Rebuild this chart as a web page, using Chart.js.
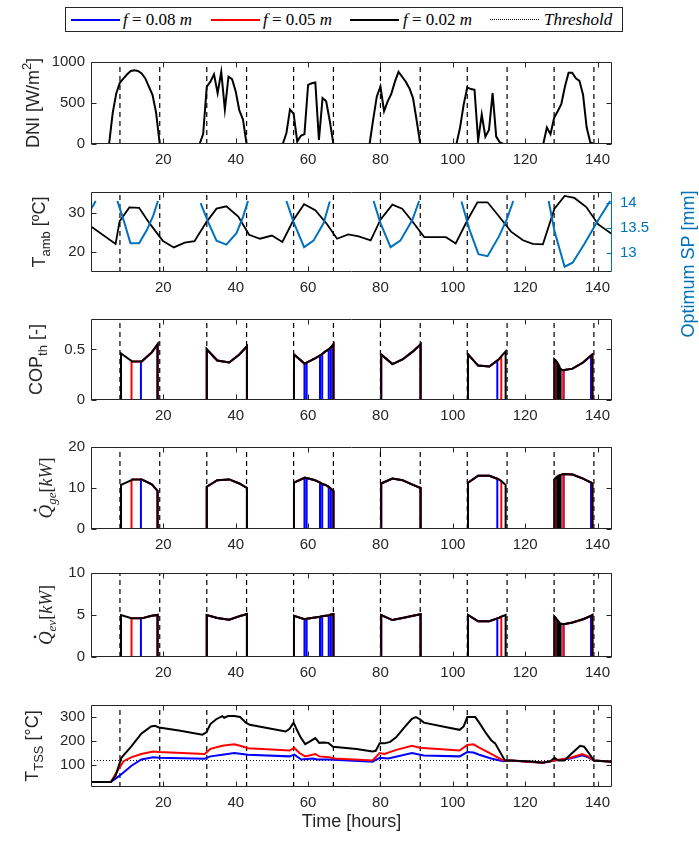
<!DOCTYPE html>
<html>
<head>
<meta charset="utf-8">
<script src="https://cdn.jsdelivr.net/npm/chart.js@4.4.1/dist/chart.umd.min.js"></script>
<style>
body { margin: 0; background: #fff; }
#wrap { position: relative; width: 699px; height: 845px; overflow: hidden; }
#wrap canvas { position: absolute; left: 0; }
#legend { position: absolute; left: 65px; top: 7px; width: 556px; height: 23px; border: 1.3px solid #262626;
  font-family: "Liberation Serif", "DejaVu Serif", serif; font-size: 17px; color: #000; }
.item { position: absolute; top: 0; height: 23px; line-height: 23px; white-space: nowrap; }
.swatch { position: absolute; top: 11px; width: 49px; height: 0; }
</style>
</head>
<body>
<div id="wrap">
  <div id="legend">
    <span class="swatch" style="left:5px;border-top:2px solid #0000ff"></span>
    <span class="item" style="left:57px"><i>f</i> = 0.08 <i>m</i></span>
    <span class="swatch" style="left:145px;border-top:2px solid #ff0000"></span>
    <span class="item" style="left:197px"><i>f</i> = 0.05 <i>m</i></span>
    <span class="swatch" style="left:284px;border-top:2px solid #000"></span>
    <span class="item" style="left:337px"><i>f</i> = 0.02 <i>m</i></span>
    <span class="swatch" style="left:424px;border-top:1.5px dotted #000"></span>
    <span class="item" style="left:478px"><i>Threshold</i></span>
  </div>
</div>
<script>
// time axis
const xTicks = [20, 40, 60, 80, 100, 120, 140];
const sunTimes = [8, 19, 32, 43, 56, 67, 80, 91, 104, 115, 128, 139];

// DNI [W/m2]
const dniH = [0, 5, 6, 7, 8, 9, 10, 11, 12, 13, 14, 15, 16, 17, 18, 19,
  30, 31, 32, 33, 34, 35, 36, 37, 38, 39, 40, 41, 42, 43,
  53, 54, 55, 56, 57, 58, 59, 60, 61, 62, 63, 64, 65, 66, 67,
  77, 78, 79, 80, 81, 82, 83, 84, 85, 86, 87, 88, 89, 90, 91,
  101, 102, 103, 104, 105, 106, 107, 108, 109, 110, 111, 112, 113, 114,
  125, 126, 127, 128, 129, 130, 131, 132, 133, 134, 135, 136, 137, 138, 139, 144];
const dniV = [0, 0, 380, 620, 750, 800, 850, 890, 900, 890, 860, 800, 700, 600, 380, 0,
  0, 120, 700, 760, 850, 620, 880, 420, 820, 790, 640, 410, 300, 0,
  0, 130, 420, 370, 30, 100, 120, 720, 740, 750, 50, 560, 520, 280, 0,
  0, 300, 580, 700, 400, 520, 610, 760, 880, 820, 760, 680, 560, 290, 0,
  0, 200, 480, 690, 670, 660, 40, 360, 90, 170, 620, 90, 20, 0,
  0, 200, 120, 320, 400, 490, 700, 870, 870, 800, 770, 600, 200, 20, 0, 0];

// ambient temperature [ºC]
const tAmbH = [0, 6.8, 7.9, 10.6, 13.3, 16.1, 19.9, 22.9, 25.9, 28.6, 31.9, 34.7, 37.4, 40.7, 43.7, 46.7, 50, 52.9, 56, 58.9,
  62, 65.3, 68, 71.1, 74, 77.3, 80, 83.3, 86, 88.8, 92.1, 95.3, 98.1, 100.8, 104.1, 106.8, 109.6, 112.8, 116.1, 119.4,
  122.1, 124.9, 128.1, 130.9, 133.6, 136.9, 140.2, 144];
const tAmbV = [26.5, 22.1, 27.8, 31.3, 31.2, 27.4, 22.8, 21.2, 22.4, 22.8, 27.6, 31, 31.6, 29, 24.4, 23.4, 24.2, 22.6, 28.2, 32.1,
  30.6, 27, 23.4, 24.5, 24, 23, 28.2, 32, 31, 27.8, 23.8, 23.8, 23.8, 22.2, 28.2, 32.6, 32.6, 29, 25.2, 23,
  22.1, 22, 31, 34.2, 33.7, 31.4, 27, 24.6];

// optimum SP [mm], one run per day
const spH = [[0, 1.3], [7.3, 9, 10.9, 13.3, 15.5, 17.2, 18.5], [30.3, 32.5, 34.7, 37.4, 40.2, 42, 43.4],
  [54, 56, 58.9, 61.5, 64.3, 66], [78.1, 80, 82.8, 85.5, 88.8, 90.7], [102.4, 104.6, 107.1, 109.6, 112.8, 115, 116.7],
  [126.5, 128.1, 130.9, 133.1, 136.4, 140.2, 143.5]];
const spV = [[13.875, 14.04], [14.04, 13.66, 13.2, 13.2, 13.47, 13.75, 14.04], [14.0, 13.6, 13.25, 13.17, 13.4, 13.72, 14.04],
  [14.04, 13.62, 13.12, 13.25, 13.6, 14.03], [14.04, 13.6, 13.12, 13.25, 13.66, 14.04], [14.03, 13.47, 12.98, 12.94, 13.34, 13.69, 14.04],
  [14.04, 13.44, 12.73, 12.81, 13.19, 13.66, 14.04]];

// chiller operating curves (read at these hours)
const opH = [8.3, 11.2, 11.4, 13.8, 14, 16.8, 18.4,
  32, 34.9, 38.2, 41, 43.1,
  56.1, 59.0, 59.1, 59.6, 61.9, 63.3, 63.9, 64.8, 65.7, 66.3, 67,
  80.2, 83.3, 86.1, 89, 91.1,
  104.2, 107, 110.1, 112.3, 112.7, 113.4, 114.6,
  128.1, 128.4, 128.9, 129.2, 129.5, 129.8, 130.1, 130.6, 133.1, 136, 138.2, 138.6];
const copV = [0.46, 0.385, 0.38, 0.38, 0.38, 0.47, 0.55,
  0.50, 0.39, 0.37, 0.45, 0.53,
  0.45, 0.36, 0.36, 0.37, 0.41, 0.44, 0.455, 0.48, 0.50, 0.52, 0.55,
  0.45, 0.355, 0.40, 0.48, 0.55,
  0.45, 0.34, 0.33, 0.39, 0.40, 0.43, 0.48,
  0.40, 0.39, 0.37, 0.35, 0.33, 0.31, 0.30, 0.295, 0.31, 0.37, 0.44, 0.45];
const qgeV = [10.75, 11.9, 12.1, 12.1, 12.1, 10.9, 9.3,
  10.3, 11.9, 12.1, 11.1, 10.0,
  11.3, 12.5, 12.5, 12.45, 11.9, 11.3, 11.0, 10.75, 10.3, 9.8, 9.3,
  11.1, 12.3, 11.9, 10.75, 10.0,
  11.3, 13.0, 13.0, 12.25, 12.1, 11.7, 10.75,
  12.1, 12.4, 12.8, 13.0, 13.1, 13.2, 13.3, 13.4, 13.3, 12.3, 11.3, 11.1];
const qevV = [5.0, 4.62, 4.6, 4.6, 4.6, 4.9, 5.0,
  5.0, 4.65, 4.45, 4.85, 5.1,
  4.9, 4.5, 4.5, 4.55, 4.7, 4.8, 4.85, 4.9, 4.95, 5.05, 5.1,
  5.0, 4.4, 4.65, 4.9, 5.1,
  5.0, 4.25, 4.25, 4.6, 4.65, 4.8, 5.0,
  4.8, 4.65, 4.4, 4.25, 4.1, 4.0, 3.95, 3.9, 4.1, 4.5, 4.9, 5.0];
// on-periods per case [start, end]
const onBlack = [[8.3, 18.4], [32, 43.1], [56.1, 67], [80.2, 91.1], [104.2, 114.6], [128.1, 128.9], [129.2, 129.5], [129.8, 138.6]];
const onRed = [[11.2, 18.4], [32, 43.1], [56.1, 67], [80.2, 91.1], [104.2, 113.4], [128.1, 128.4], [130.6, 138.6]];
const onBlue = [[13.8, 18.4], [32, 43.1], [56.1, 59.0], [59.6, 63.3], [63.9, 65.7], [66.3, 67], [80.2, 91.1], [104.2, 112.3], [128.1, 128.4], [130.6, 138.2]];

// storage temperature [°C]
const tssBlackH = [0, 5.5, 6.8, 8.4, 11.1, 13.9, 16.6, 17.7, 18.8, 24.3, 30.8, 31.9, 33, 34.6, 36.3, 36.8, 37.9, 39.6, 41.2,
  42.8, 43.9, 49.4, 53.8, 54.9, 56, 57, 57.9, 59.2, 60.3, 62, 63.1, 64.2, 65.6, 66.9, 73.4, 77.8, 78.7, 79.8, 81.1,
  82.7, 84.4, 86.6, 88.7, 89.8, 90.9, 92, 98.6, 101.9, 103, 104, 106.2, 107.3, 109, 110.6, 111.7, 114.4, 116, 122.6, 124.8,
  127, 128.1, 129.2, 130.8, 133, 135.2, 136.3, 137.9, 139, 144];
const tssBlackV = [30.7, 30.7, 57, 131, 177, 231, 261, 264, 257, 244, 227, 237, 271, 291, 304, 297, 304, 304, 300,
  277, 268, 253, 240, 251, 277, 244, 217, 188, 197, 213, 193, 195, 193, 177, 168, 157, 160, 191, 191,
  197, 217, 257, 293, 300, 291, 277, 257, 247, 261, 300, 300, 277, 237, 204, 191, 120, 120, 115, 111,
  117, 131, 120, 120, 151, 181, 177, 144, 120, 115];
const tssRedH = [0, 5.5, 7.3, 9, 11.1, 13.9, 17.2, 18.8, 31.4, 33, 36.3, 39.6, 41.2, 43.4, 54.9, 56.2, 57.6, 59.2, 62, 63.1,
  65.8, 67.4, 77.8, 79.8, 81.1, 84.4, 88.7, 90.9, 101.9, 104, 105.7, 107.3, 110.6, 113.9, 116, 124.8, 128.1, 132.5, 135.8, 137.4,
  139, 144];
const tssRedV = [30.7, 30.7, 77, 117, 133, 147, 157, 155, 147, 168, 181, 187, 181, 171, 161, 173, 151, 137, 147, 137,
  133, 128, 120, 151, 147, 164, 181, 173, 161, 184, 187, 173, 147, 120, 120, 111, 120, 131, 147, 137,
  120, 115];
const tssBlueH = [0, 5.5, 7.9, 11.1, 13.9, 17.2, 18.8, 31.4, 33, 36.3, 39.6, 43.4, 54.9, 56.2, 58.1, 61.4, 62.5, 65.8, 77.8, 79.8,
  82.2, 88.7, 92, 101.9, 104, 105.7, 107.3, 110.6, 113.9, 116, 124.8, 128.1, 132.5, 135.8, 137.4, 139, 144];
const tssBlueV = [30.7, 30.7, 57, 97, 124, 133, 131, 127, 137, 144, 151, 144, 137, 144, 124, 128, 124, 124, 115, 131,
  128, 151, 141, 137, 155, 153, 144, 128, 117, 120, 111, 120, 128, 141, 133, 120, 115];
const threshold = 120;

const axisColor = '#262626';
const spColor = '#0072BD';
const sans = '"Liberation Sans", Arial, sans-serif';
const serif = '"Liberation Serif", "Times New Roman", serif';
const tickFont = { family: sans, size: 15 };

function pts(h, v) { return h.map((t, i) => ({ x: t, y: v[i] })); }

function runs(hs, vs) {
  const out = [];
  hs.forEach((h, k) => { h.forEach((t, i) => out.push({ x: t, y: vs[k][i] })); out.push({ x: h[h.length - 1], y: null }); });
  return out;
}

function onOff(vals, windows) {
  const out = [{ x: 0, y: 0 }];
  windows.forEach(([a, b]) => {
    out.push({ x: a, y: 0 });
    opH.forEach((t, i) => { if (t >= a && t <= b) out.push({ x: t, y: vals[i] }); });
    out.push({ x: b, y: 0 });
  });
  out.push({ x: 144, y: 0 });
  return out;
}

function line(data, color, width, extra) {
  return Object.assign({ data: data, borderColor: color, borderWidth: width, pointRadius: 0, tension: 0, fill: false, spanGaps: false }, extra || {});
}

function sunLines(ymin, ymax) {
  const d = [];
  sunTimes.forEach(t => { d.push({ x: t, y: ymin }, { x: t, y: ymax }, { x: t, y: null }); });
  return line(d, '#000', 1.2, { borderDash: [5, 4], order: 10 });
}

function drawRich(ctx, segs, x, y, color) {
  ctx.save();
  ctx.translate(x, y);
  ctx.rotate(-Math.PI / 2);
  ctx.fillStyle = color;
  ctx.textBaseline = 'alphabetic';
  let w = 0;
  segs.forEach(s => { ctx.font = s.f; w += ctx.measureText(s.t).width; });
  let cx = -w / 2;
  segs.forEach(s => {
    ctx.font = s.f;
    const sw = ctx.measureText(s.t).width;
    ctx.fillText(s.t, cx, s.dy || 0);
    if (s.dot) { ctx.beginPath(); ctx.arc(cx + sw * 0.6, -17, 1.4, 0, Math.PI * 2); ctx.fill(); }
    cx += sw;
  });
  ctx.restore();
}

const framePlugin = {
  id: 'frame',
  afterDraw(chart, args, o) {
    const ctx = chart.ctx, a = chart.chartArea, sx = chart.scales.x, sy = chart.scales.y, sy2 = chart.scales.y2;
    const L = Math.round(a.left) + 0.5, R = Math.round(a.right) - 0.5, T = Math.round(a.top) + 0.5, B = Math.round(a.bottom) - 0.5;
    const tl = 5;
    ctx.save();
    ctx.lineWidth = 1;
    ctx.strokeStyle = axisColor;
    ctx.beginPath();
    sx.ticks.forEach(t => {
      const px = Math.round(sx.getPixelForValue(t.value)) + 0.5;
      ctx.moveTo(px, B); ctx.lineTo(px, B - tl); ctx.moveTo(px, T); ctx.lineTo(px, T + tl);
    });
    sy.ticks.forEach(t => {
      const py = Math.round(sy.getPixelForValue(t.value)) + 0.5;
      ctx.moveTo(L, py); ctx.lineTo(L + tl, py);
      if (!sy2) { ctx.moveTo(R, py); ctx.lineTo(R - tl, py); }
    });
    ctx.moveTo(R, B); ctx.lineTo(L, B); ctx.lineTo(L, T); ctx.lineTo(R, T);
    if (!sy2) ctx.lineTo(R, B);
    ctx.stroke();
    if (sy2) {
      ctx.strokeStyle = spColor;
      ctx.beginPath();
      ctx.moveTo(R, T); ctx.lineTo(R, B);
      sy2.ticks.forEach(t => {
        const py = Math.round(sy2.getPixelForValue(t.value)) + 0.5;
        ctx.moveTo(R, py); ctx.lineTo(R - tl, py);
      });
      ctx.stroke();
    }
    (o.titles || []).forEach(tt => drawRich(ctx, tt.segs, tt.x, tt.y != null ? tt.y : (a.top + a.bottom) / 2, tt.color || axisColor));
    if (o.xlabel) {
      ctx.fillStyle = axisColor;
      ctx.font = '18px ' + sans;
      ctx.textAlign = 'center';
      ctx.textBaseline = 'middle';
      ctx.fillText(o.xlabel.text, (a.left + a.right) / 2, o.xlabel.y);
    }
    ctx.restore();
  }
};

const padTop = 12;
function makePanel(top, h, yCfg, datasets, titles, opt) {
  opt = opt || {};
  const xH = opt.xH || 28;
  const cTop = top - padTop;
  const cv = document.createElement('canvas');
  cv.width = 699; cv.height = padTop + h + xH;
  cv.style.top = cTop + 'px';
  document.getElementById('wrap').appendChild(cv);
  titles.forEach(t => { if (t.absY != null) t.y = t.absY - cTop; });
  const scales = {
    x: {
      type: 'linear', min: 0, max: 144,
      afterBuildTicks: s => { s.ticks = xTicks.map(v => ({ value: v })); },
      afterFit: s => { s.height = xH; },
      grid: { display: false, drawTicks: false }, border: { display: false },
      ticks: { font: tickFont, color: axisColor, padding: 7, maxRotation: 0, autoSkip: false, callback: v => String(v) }
    },
    y: {
      min: yCfg.min, max: yCfg.max,
      afterBuildTicks: s => { s.ticks = yCfg.ticks.map(v => ({ value: v })); },
      afterFit: s => { s.width = 91; },
      grid: { display: false, drawTicks: false }, border: { display: false },
      ticks: { font: tickFont, color: axisColor, padding: 6, callback: v => String(v) }
    }
  };
  if (opt.y2) {
    scales.y2 = {
      position: 'right', min: opt.y2.min, max: opt.y2.max,
      afterBuildTicks: s => { s.ticks = opt.y2.ticks.map(v => ({ value: v })); },
      afterFit: s => { s.width = 87; },
      grid: { display: false, drawTicks: false }, border: { display: false },
      ticks: { font: tickFont, color: spColor, padding: 8, callback: v => String(v) }
    };
  }
  const xlabel = opt.xlabel ? { text: opt.xlabel.text, y: opt.xlabel.absY - cTop } : null;
  return new Chart(cv, {
    type: 'line',
    data: { datasets: datasets },
    options: {
      responsive: false, animation: false, parsing: true,
      layout: { padding: { top: padTop, right: opt.y2 ? 0 : 87, left: 0, bottom: 0 } },
      plugins: { legend: { display: false }, tooltip: { enabled: false }, frame: { titles: titles, xlabel: xlabel } },
      scales: scales
    },
    plugins: [framePlugin]
  });
}

const T18 = '18px ' + sans, T13 = '13px ' + sans;
const Q19 = 'italic 19px ' + serif, Q13 = 'italic 13px ' + serif, S18 = '18px ' + serif, I18 = 'italic 18px ' + serif;

// 1: DNI
makePanel(59, 85, { min: 0, max: 1000, ticks: [0, 500, 1000] },
  [line(pts(dniH, dniV), '#000', 2, { order: 1 }), sunLines(0, 1000)],
  [{ x: 39, segs: [{ t: 'DNI [W/m', f: T18 }, { t: '2', f: T13, dy: -8 }, { t: ']', f: T18 }] }]);

// 2: ambient temperature + optimum SP
makePanel(187, 85, { min: 15, max: 35.2, ticks: [20, 30] },
  [line(pts(tAmbH, tAmbV), '#000', 1.8, { order: 2 }),
   line(runs(spH, spV), spColor, 2, { yAxisID: 'y2', order: 1 }),
   sunLines(15, 35.2)],
  [{ x: 45, segs: [{ t: 'T', f: T18 }, { t: 'amb', f: T13, dy: 5 }, { t: ' [ºC]', f: T18 }] },
   { x: 694, absY: 264, color: spColor, segs: [{ t: 'Optimum SP [mm]', f: T18 }] }],
  { y2: { min: 12.625, max: 14.22, ticks: [13, 13.5, 14] }, xH: 90 });

// 3: COP
makePanel(316, 84, { min: 0, max: 0.8, ticks: [0, 0.5] },
  [line(onOff(copV, onBlack), '#000', 2, { order: 1 }),
   line(onOff(copV, onRed), '#ff0000', 2, { order: 2 }),
   line(onOff(copV, onBlue), '#0000ff', 2, { order: 3 }),
   sunLines(0, 0.8)],
  [{ x: 42, segs: [{ t: 'COP', f: T18 }, { t: 'th', f: T13, dy: 5 }, { t: ' [-]', f: T18 }] }]);

// 4: generator heat
makePanel(444, 85, { min: 0, max: 20, ticks: [0, 10, 20] },
  [line(onOff(qgeV, onBlack), '#000', 2, { order: 1 }),
   line(onOff(qgeV, onRed), '#ff0000', 2, { order: 2 }),
   line(onOff(qgeV, onBlue), '#0000ff', 2, { order: 3 }),
   sunLines(0, 20)],
  [{ x: 52, segs: [{ t: 'Q', f: Q19, dot: true }, { t: 'ge', f: Q13, dy: 4 }, { t: '[', f: S18 }, { t: 'kW', f: I18 }, { t: ']', f: S18 }] }]);

// 5: evaporator heat
makePanel(570, 87, { min: 0, max: 10, ticks: [0, 5, 10] },
  [line(onOff(qevV, onBlack), '#000', 2, { order: 1 }),
   line(onOff(qevV, onRed), '#ff0000', 2, { order: 2 }),
   line(onOff(qevV, onBlue), '#0000ff', 2, { order: 3 }),
   sunLines(0, 10)],
  [{ x: 52, segs: [{ t: 'Q', f: Q19, dot: true }, { t: 'ev', f: Q13, dy: 4 }, { t: '[', f: S18 }, { t: 'kW', f: I18 }, { t: ']', f: S18 }] }]);

// 6: storage temperature
makePanel(702, 85, { min: 10, max: 350, ticks: [100, 200, 300] },
  [line(pts(tssBlackH, tssBlackV), '#000', 2, { order: 1 }),
   line(pts(tssRedH, tssRedV), '#ff0000', 2, { order: 2 }),
   line(pts(tssBlueH, tssBlueV), '#0000ff', 2, { order: 3 }),
   line([{ x: 0, y: threshold }, { x: 144, y: threshold }], '#000', 1, { borderDash: [1, 2], order: 4 }),
   sunLines(10, 350)],
  [{ x: 38, segs: [{ t: 'T', f: T18 }, { t: 'TSS', f: T13, dy: 5 }, { t: ' [°C]', f: T18 }] }],
  { xH: 58, xlabel: { text: 'Time [hours]', absY: 822 } });
</script>
</body>
</html>
